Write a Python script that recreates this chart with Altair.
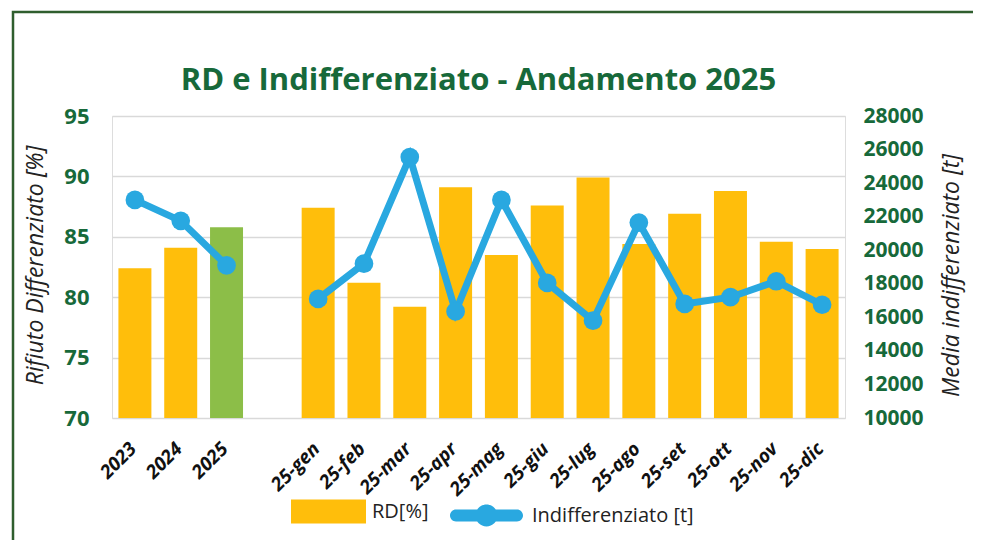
import altair as alt
import pandas as pd

# ---- data ----
periodi = ["2023", "2024", "2025", "25-gen", "25-feb", "25-mar", "25-apr", "25-mag",
           "25-giu", "25-lug", "25-ago", "25-set", "25-ott", "25-nov", "25-dic"]
rd_perc = [82.4, 84.1, 85.8, 87.4, 81.2, 79.2, 89.1, 83.5,
           87.6, 89.9, 84.4, 86.9, 88.8, 84.6, 84.0]
indiff_t = [23000, 21750, 19100, 17100, 19200, 25550, 16350, 23000,
            18050, 15800, 21650, 16800, 17200, 18150, 16750]
gruppi = ["anni"] * 3 + ["mesi"] * 12
x_domain = ["2023", "2024", "2025", " ", "25-gen", "25-feb", "25-mar", "25-apr", "25-mag",
            "25-giu", "25-lug", "25-ago", "25-set", "25-ott", "25-nov", "25-dic"]
rd_ticks = [70, 75, 80, 85, 90, 95]
ind_ticks = [10000, 12000, 14000, 16000, 18000, 20000, 22000, 24000, 26000, 28000]

GREEN_TXT = "#17693A"
YELLOW = "#FFBE0B"
GREEN_BAR = "#8CBE48"
BLUE = "#29A8E0"
FRAME = "#2F5E2E"
FONT = "Open Sans"

df = pd.DataFrame({
    "periodo": periodi,
    "rd": rd_perc,
    "indiff": indiff_t,
    "gruppo": gruppi,
    "s_rd": ["RD[%]"] * len(periodi),
    "s_ind": ["Indifferenziato [t]"] * len(periodi),
})

W, H = 733, 302

x_enc = alt.X(
    "periodo:N", sort=x_domain,
    scale=alt.Scale(domain=x_domain, paddingInner=0.28, paddingOuter=0.14),
    axis=alt.Axis(title=None, labelAngle=-45, labelFont=FONT, labelFontSize=19,
                  labelFontWeight="bold", labelFontStyle="italic", labelColor="#111111",
                  labelPadding=21, labelOffset=-8, ticks=False, domain=False, grid=False),
)

y_rd = alt.Y(
    "rd:Q", scale=alt.Scale(domain=[70, 95], nice=False, zero=False),
    axis=alt.Axis(values=rd_ticks, orient="left", grid=True, gridColor="#D9D9D9", gridWidth=1.5,
                  ticks=False, domain=False, labelFont=FONT, labelFontSize=22,
                  labelFontWeight="bold", labelColor=GREEN_TXT, labelPadding=23,
                  title="Rifiuto Differenziato [%]", titleFont=FONT, titleFontSize=23,
                  titleFontStyle="italic", titleFontWeight="normal", titleColor="#222222",
                  titleX=-77, titleY=149, titleAngle=270, titleAlign="center",
                  titleBaseline="middle"),
)

y_ind = alt.Y(
    "indiff:Q", scale=alt.Scale(domain=[10000, 28000], nice=False, zero=False),
    axis=alt.Axis(values=ind_ticks, orient="right", grid=False, ticks=False, domain=False,
                  labelFont=FONT, labelFontSize=21, labelFontWeight="bold",
                  labelColor=GREEN_TXT, labelPadding=18, format="d",
                  title="Media indifferenziato [t]", titleFont=FONT, titleFontSize=23,
                  titleFontStyle="italic", titleFontWeight="normal", titleColor="#222222",
                  titleX=106, titleY=159, titleAngle=270, titleAlign="center",
                  titleBaseline="middle"),
)

rd_legend = alt.Legend(
    title=None, orient="none", legendX=179, legendY=358, padding=0,
    symbolType="M-1,-0.32H1V0.32H-1Z", symbolSize=5625, symbolStrokeWidth=0,
    labelFont=FONT, labelFontSize=20, labelColor="#222222", labelOffset=6, labelLimit=300,
)

ind_legend = alt.Legend(
    title=None, orient="none", legendX=338, legendY=363, padding=0,
    symbolType=("M-0.836,-0.164H0.836A0.164,0.164,0,0,1,0.836,0.164"
                "H-0.836A0.164,0.164,0,0,1,-0.836,-0.164Z "
                "M0.301,0A0.301,0.301,0,1,1,-0.301,0A0.301,0.301,0,1,1,0.301,0Z"),
    symbolSize=5329, symbolStrokeWidth=0, symbolFillColor=BLUE,
    labelFont=FONT, labelFontSize=20, labelColor="#222222", labelOffset=9, labelLimit=300,
)

bars = alt.Chart(df).mark_bar(clip=True).encode(
    x=x_enc,
    y=y_rd,
    color=alt.when(alt.datum.periodo == "2025").then(alt.value(GREEN_BAR)).otherwise(
        alt.Color("s_rd:N", scale=alt.Scale(domain=["RD[%]"], range=[YELLOW]), legend=rd_legend)
    ),
)

line = alt.Chart(df).mark_line(strokeWidth=7).encode(
    x=x_enc,
    y=y_ind,
    detail="gruppo:N",
    stroke=alt.Stroke("s_ind:N", scale=alt.Scale(domain=["Indifferenziato [t]"], range=[BLUE]),
                      legend=ind_legend),
)

points = alt.Chart(df).mark_circle(size=350, color=BLUE, opacity=1).encode(
    x=x_enc,
    y=y_ind,
)

frame = alt.Chart(alt.Data(values=[{"f": 1}])).mark_rect(
    fill="transparent", stroke=FRAME, strokeWidth=2.5
).encode(
    x=alt.value(-99), x2=alt.value(863), y=alt.value(-104), y2=alt.value(470)
)

chart = alt.layer(frame, bars, alt.layer(line, points)).resolve_scale(
    y="independent"
).properties(
    width=W, height=H,
    autosize=alt.AutoSizeParams(type="none"),
    padding={"left": 104, "top": 108, "right": 128, "bottom": 122},
    title=alt.Title("RD e Indifferenziato - Andamento 2025", font=FONT, fontSize=31,
                    fontWeight="bold", color=GREEN_TXT, anchor="middle", frame="group",
                    offset=-110, baseline="alphabetic"),
).configure_view(strokeWidth=0).configure(background="white")

chart.save("out.html", embed_options={"renderer": "svg", "actions": False})
